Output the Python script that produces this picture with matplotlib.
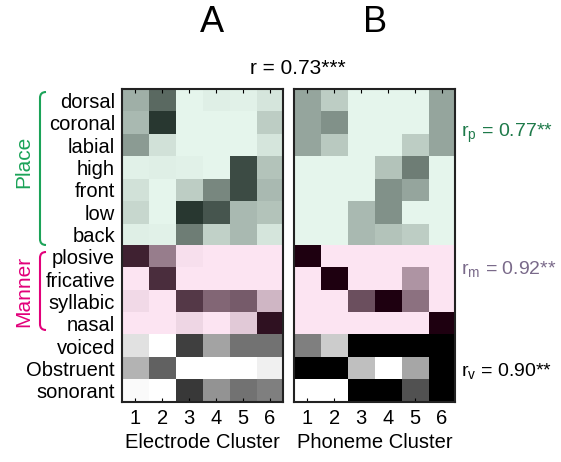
import numpy as np
import matplotlib
matplotlib.use("Agg")
import matplotlib.pyplot as plt
from matplotlib.colors import LinearSegmentedColormap
from matplotlib.path import Path
from matplotlib.patches import PathPatch

plt.rcParams["font.family"] = ["Liberation Sans", "DejaVu Sans"]

# ─── DATA ────────────────────────────────────────────────────────────────────
place_labels = ["dorsal", "coronal", "labial", "high", "front", "low", "back"]
manner_labels = ["plosive", "fricative", "syllabic", "nasal"]
voice_labels = ["voiced", "Obstruent", "sonorant"]
clusters = [1, 2, 3, 4, 5, 6]

# weights (0 = light, 1 = dark)
elec_place = [
    [0.35, 0.70, 0.00, 0.03, 0.02, 0.08],
    [0.30, 0.95, 0.00, 0.00, 0.00, 0.20],
    [0.45, 0.10, 0.00, 0.00, 0.00, 0.08],
    [0.02, 0.03, 0.02, 0.00, 0.85, 0.25],
    [0.10, 0.00, 0.20, 0.55, 0.85, 0.30],
    [0.15, 0.00, 0.95, 0.80, 0.30, 0.25],
    [0.03, 0.02, 0.60, 0.18, 0.30, 0.08],
]
elec_manner = [
    [0.85, 0.45, 0.02, 0.00, 0.00, 0.00],
    [0.00, 0.80, 0.00, 0.00, 0.00, 0.00],
    [0.05, 0.00, 0.75, 0.55, 0.60, 0.20],
    [0.00, 0.00, 0.06, 0.00, 0.12, 0.92],
]
elec_voice = [
    [0.12, 0.00, 0.75, 0.36, 0.55, 0.55],
    [0.30, 0.62, 0.00, 0.00, 0.00, 0.06],
    [0.02, 0.00, 0.78, 0.42, 0.55, 0.50],
]

phon_place = [
    [0.40, 0.20, 0.00, 0.00, 0.00, 0.40],
    [0.40, 0.50, 0.00, 0.00, 0.00, 0.40],
    [0.40, 0.22, 0.00, 0.00, 0.20, 0.40],
    [0.00, 0.00, 0.00, 0.25, 0.60, 0.00],
    [0.00, 0.00, 0.00, 0.50, 0.40, 0.00],
    [0.00, 0.00, 0.30, 0.50, 0.00, 0.00],
    [0.00, 0.00, 0.30, 0.25, 0.20, 0.00],
]
phon_manner = [
    [1.00, 0.00, 0.00, 0.00, 0.00, 0.00],
    [0.00, 1.00, 0.00, 0.00, 0.35, 0.00],
    [0.00, 0.00, 0.65, 1.00, 0.50, 0.00],
    [0.00, 0.00, 0.00, 0.00, 0.00, 1.00],
]
phon_voice = [
    [0.50, 0.20, 1.00, 1.00, 1.00, 1.00],
    [1.00, 1.00, 0.25, 0.00, 0.35, 1.00],
    [0.00, 0.00, 1.00, 1.00, 0.68, 1.00],
]

r_all = "r = 0.73***"
r_place = "0.77**"
r_manner = "0.92**"
r_voice = "0.90**"

# ─── COLORS ──────────────────────────────────────────────────────────────────
cm_place = LinearSegmentedColormap.from_list("place", ["#E5F5EC", "#1F2E27"])
cm_manner = LinearSegmentedColormap.from_list("manner", ["#FCE4F2", "#1E0010"])
cm_voice = LinearSegmentedColormap.from_list("voice", ["#FFFFFF", "#000000"])

row_labels = place_labels + manner_labels + voice_labels
n_place, n_manner = len(place_labels), len(manner_labels)
n_rows = len(row_labels)

FS = 14.5

fig = plt.figure(figsize=(5.61, 4.62), dpi=100)
ax1 = fig.add_axes([0.2175, 0.13, 0.287, 0.677])
ax2 = fig.add_axes([0.524, 0.13, 0.287, 0.677])


def draw_panel(ax, place, manner, voice):
    lo, hi = clusters[0] - 0.5, clusters[-1] + 0.5
    ax.imshow(np.array(place), cmap=cm_place, vmin=0, vmax=1, aspect="auto",
              extent=(lo, hi, n_place - 0.5, -0.5), interpolation="nearest")
    ax.imshow(np.array(manner), cmap=cm_manner, vmin=0, vmax=1, aspect="auto",
              extent=(lo, hi, n_place + n_manner - 0.5, n_place - 0.5),
              interpolation="nearest")
    ax.imshow(np.array(voice), cmap=cm_voice, vmin=0, vmax=1, aspect="auto",
              extent=(lo, hi, n_rows - 0.5, n_place + n_manner - 0.5),
              interpolation="nearest")
    ax.set_xlim(lo, hi)
    ax.set_ylim(n_rows - 0.5, -0.5)
    ax.set_xticks(clusters)
    ax.set_xticklabels([str(c) for c in clusters], fontsize=FS)
    ax.tick_params(axis="x", direction="in", length=3, top=True, pad=5)
    ax.set_yticks([])
    for s in ax.spines.values():
        s.set_linewidth(1.5)
        s.set_color("#222222")


draw_panel(ax1, elec_place, elec_manner, elec_voice)
draw_panel(ax2, phon_place, phon_manner, phon_voice)

ax1.set_yticks(range(n_rows))
ax1.set_yticklabels(row_labels, fontsize=FS)
ax1.tick_params(axis="y", length=0, pad=5)

ax1.set_xlabel("Electrode Cluster", fontsize=FS, labelpad=4)
ax2.set_xlabel("Phoneme Cluster", fontsize=FS, labelpad=4)

fig.text(0.378, 0.952, "A", fontsize=26, ha="center", va="center")
fig.text(0.668, 0.952, "B", fontsize=26, ha="center", va="center")
fig.text(0.53, 0.852, r_all, fontsize=15, ha="center", va="center")

fig.text(0.822, 0.712, r"r$_\mathregular{p}$ = " + r_place, fontsize=14,
         color="#1E7A4A", va="center")
fig.text(0.822, 0.415, r"r$_\mathregular{m}$ = " + r_manner, fontsize=14,
         color="#7A6A8A", va="center")
fig.text(0.822, 0.195, r"r$_\mathregular{v}$ = " + r_voice, fontsize=14,
         color="black", va="center")


def bracket(y_top, y_bot, color):
    # figure pixel coords -> fractions
    W, H = 561.0, 462.0
    x0, x1 = 46 / W, 40 / W
    yt, yb = 1 - y_top / H, 1 - y_bot / H
    dy = 6 / H
    verts = [(x0, yt), (x1, yt), (x1, yt - dy),
             (x1, yb + dy), (x1, yb), (x0, yb)]
    codes = [Path.MOVETO, Path.CURVE3, Path.CURVE3,
             Path.LINETO, Path.CURVE3, Path.CURVE3]
    fig.add_artist(PathPatch(Path(verts, codes), fill=False, edgecolor=color,
                             lw=1.5, transform=fig.transFigure))


bracket(92, 245, "#1BA358")
bracket(252, 330, "#E2007A")
fig.text(24 / 561, 1 - 162 / 462, "Place", rotation=90, fontsize=15,
         color="#1BA358", ha="center", va="center")
fig.text(24 / 561, 1 - 291 / 462, "Manner", rotation=90, fontsize=15,
         color="#E2007A", ha="center", va="center")

fig.savefig("out.png", dpi=100)
